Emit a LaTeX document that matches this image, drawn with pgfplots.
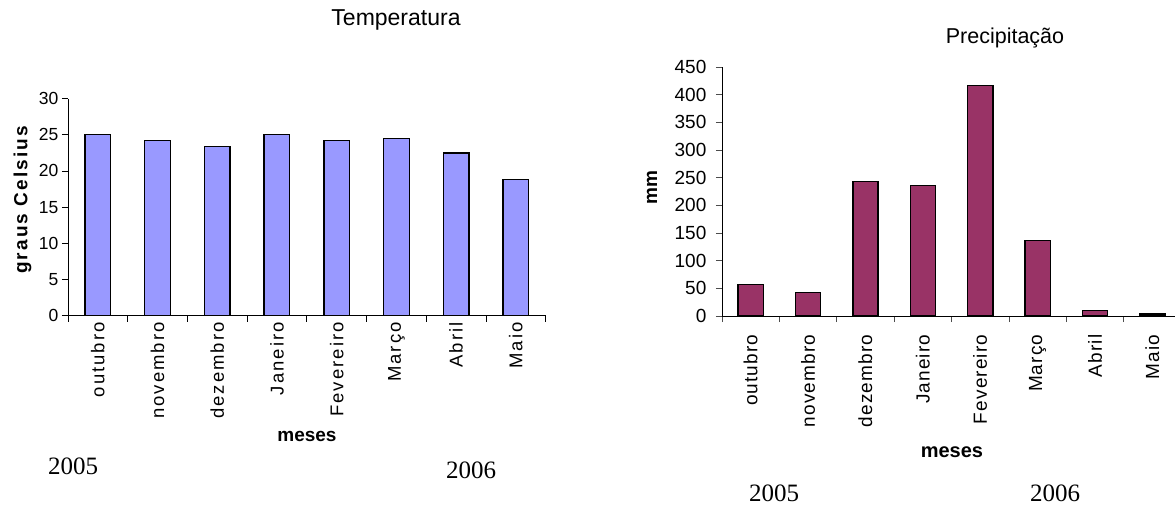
\documentclass[border=0pt]{standalone}
\usepackage{pgfplots}
\pgfplotsset{compat=1.18}
\usepackage{fontspec}
\setmainfont{Liberation Sans}
\newfontfamily\yearfont{Liberation Serif}
\newfontfamily\spacedL[LetterSpace=11]{Liberation Sans}
\newfontfamily\spacedR[LetterSpace=6]{Liberation Sans}
\newfontfamily\spacedY[LetterSpace=11]{Liberation Sans}
\definecolor{tempbar}{HTML}{9999FF}
\definecolor{rainbar}{HTML}{993366}
\begin{document}
\begin{tikzpicture}
\useasboundingbox (0,0) rectangle (1175pt,-506pt);
% ---------- Temperatura ----------
\begin{axis}[
  scale only axis, width=477.8pt, height=217.1pt,
  anchor=south west, at={(67.9pt,-315.7pt)},
  ybar, bar width=25.7pt,
  xmin=-0.5, xmax=7.5, ymin=0, ymax=30,
  axis lines*=left,
  axis line style={black, line width=0.8pt},
  tick align=outside, major tick length=6pt,
  tick style={black, line width=0.8pt},
  xtick={-0.5,0.5,1.5,2.5,3.5,4.5,5.5,6.5,7.5},
  x tick label as interval,
  xticklabels={outubro,novembro,dezembro,Janeiro,Fevereiro,Março,Abril,Maio},
  xticklabel style={rotate=90, anchor=east, xshift=3pt, font=\spacedL\fontsize{18.5}{19}\selectfont},
  ytick={0,5,...,30},
  /pgf/number format/assume math mode=true,
  yticklabel style={font=\fontsize{17.5}{17.5}\selectfont},
  title={Temperatura},
  title style={at={(axis description cs:0.6867,1.308)}, anchor=base, font=\fontsize{23}{23}\selectfont},
  xlabel={meses},
  xlabel style={at={(axis description cs:0.5004,-0.5772)}, anchor=base, font=\bfseries\fontsize{19}{19}\selectfont},
  ylabel={graus Celsius},
  ylabel style={at={(axis description cs:-0.095,0.533)}, anchor=center, font=\spacedY\bfseries\fontsize{19}{19}\selectfont},
]
\addplot[fill=tempbar, draw=black, line width=1.4pt] coordinates {
  (0,25.0) (1,24.2) (2,23.4) (3,25.0) (4,24.2) (5,24.5) (6,22.5) (7,18.8)
};
\end{axis}
% ---------- Precipitação ----------
\begin{axis}[
  scale only axis, width=459.2pt, height=249pt,
  anchor=south west, at={(721.9pt,-316.1pt)},
  ybar, bar width=25.2pt,
  xmin=-0.5, xmax=7.5, ymin=0, ymax=450,
  axis lines*=left,
  axis line style={black, line width=0.8pt},
  tick align=outside, major tick length=6pt,
  tick style={black!70, line width=0.8pt},
  xtick={-0.5,0.5,1.5,2.5,3.5,4.5,5.5,6.5,7.5},
  x tick label as interval,
  xticklabels={outubro,novembro,dezembro,Janeiro,Fevereiro,Março,Abril,Maio},
  xticklabel style={rotate=90, anchor=east, xshift=-9pt, font=\spacedR\fontsize{19}{19}\selectfont},
  ytick={0,50,...,450},
  /pgf/number format/assume math mode=true,
  yticklabel style={xshift=-6pt, font=\fontsize{19}{19}\selectfont},
  title={Precipitação},
  title style={at={(axis description cs:0.6165,1.0715)}, anchor=base, font=\fontsize{21.5}{21.5}\selectfont},
  xlabel={meses},
  xlabel style={at={(axis description cs:0.501,-0.5659)}, anchor=base, font=\bfseries\fontsize{20}{20}\selectfont},
  ylabel={mm},
  ylabel style={at={(axis description cs:-0.1522,0.5145)}, anchor=center, font=\bfseries\fontsize{19}{19}\selectfont},
]
\addplot[fill=rainbar, draw=black, line width=1.4pt] coordinates {
  (0,56.7) (1,43.2) (2,243.5) (3,236) (4,416.7) (5,136.2) (6,10.5) (7,3.5)
};
\end{axis}
% ---------- years ----------
\node[anchor=base, font=\yearfont\fontsize{25}{25}\selectfont] at (73pt,-474pt) {2005};
\node[anchor=base, font=\yearfont\fontsize{25}{25}\selectfont] at (471pt,-478pt) {2006};
\node[anchor=base, font=\yearfont\fontsize{25}{25}\selectfont] at (774pt,-501pt) {2005};
\node[anchor=base, font=\yearfont\fontsize{25}{25}\selectfont] at (1055pt,-501pt) {2006};
\end{tikzpicture}
\end{document}
